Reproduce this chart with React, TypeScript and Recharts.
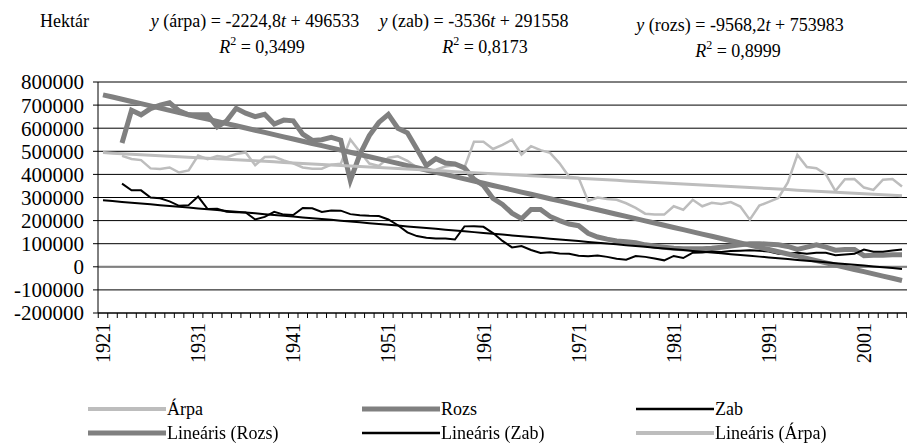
import { LineChart, Line, XAxis, YAxis, CartesianGrid, ReferenceLine, Text } from "recharts";

const SERIF = '"Liberation Serif", "Times New Roman", serif';

// categories: 1921..2005
const FIRST_YEAR = 1921;
const LAST_YEAR = 2005;
const years: number[] = [];
for (let y = FIRST_YEAR; y <= LAST_YEAR; y++) years.push(y);

// hectares (1921-1922 empty)
const arpa = [
  null, null,
  480000, 467000, 462000, 426000, 423000, 430000, 408000, 417000,
  482000, 466000, 480000, 474000, 488000, 495000, 440000, 475000, 476000, 460000,
  448000, 430000, 425000, 425000, 442000, 446000, 551000, 498000, 447000, 437000,
  472000, 478000, 459000, 430000, 415000, 420000, 434000, 440000, 430000, 541000,
  541000, 510000, 528000, 550000, 486000, 522000, 505000, 493000, 448000, 390000,
  385000, 285000, 300000, 294000, 290000, 275000, 255000, 230000, 226000, 226000,
  262000, 247000, 290000, 262000, 277000, 272000, 280000, 261000, 204000, 265000,
  281000, 298000, 365000, 485000, 432000, 427000, 400000, 328000, 379000, 380000,
  343000, 333000, 377000, 380000, 348000,
];

const rozs = [
  null, null,
  536000, 678000, 658000, 685000, 700000, 710000, 675000, 658000,
  658000, 658000, 606000, 632000, 686000, 665000, 650000, 660000, 618000, 635000,
  632000, 574000, 547000, 550000, 560000, 548000, 374000, 486000, 568000, 625000,
  660000, 600000, 580000, 510000, 438000, 468000, 449000, 445000, 428000, 380000,
  352000, 296000, 270000, 232000, 208000, 248000, 248000, 218000, 200000, 185000,
  178000, 145000, 129000, 120000, 112000, 108000, 104000, 95000, 90000, 85000,
  80000, 78000, 78000, 78000, 80000, 85000, 90000, 95000, 100000, 100000,
  98000, 95000, 88000, 75000, 85000, 95000, 85000, 72000, 75000, 75000,
  48000, 50000, 50000, 52000, 52000,
];

const zab = [
  null, null,
  360000, 331000, 331000, 300000, 297000, 283000, 264000, 267000,
  304000, 250000, 251000, 238000, 236000, 235000, 205000, 216000, 238000, 226000,
  224000, 255000, 253000, 237000, 244000, 243000, 228000, 223000, 221000, 220000,
  205000, 180000, 149000, 133000, 126000, 122000, 122000, 118000, 175000, 176000,
  173000, 146000, 112000, 84000, 90000, 73000, 60000, 63000, 58000, 56000,
  48000, 46000, 49000, 43000, 35000, 31000, 47000, 43000, 36000, 28000,
  47000, 38000, 61000, 62000, 66000, 64000, 68000, 70000, 72000, 70000,
  66000, 56000, 58000, 61000, 56000, 61000, 61000, 50000, 53000, 56000,
  75000, 65000, 65000, 71000, 75000,
];

// trend equations as printed above the chart (t = 1 for 1921)
const trendArpa = { slope: -2224.8, intercept: 496533 };
const trendZab = { slope: -3536, intercept: 291558 };
const trendRozs = { slope: -9568.2, intercept: 753983 };

const yTicks = [-200000, -100000, 0, 100000, 200000, 300000, 400000, 500000, 600000, 700000, 800000];

const data = years.map((year, i) => ({
  year,
  arpa: arpa[i],
  rozs: rozs[i],
  zab: zab[i],
  linRozs: trendRozs.intercept + trendRozs.slope * (i + 1),
  linZab: trendZab.intercept + trendZab.slope * (i + 1),
  linArpa: trendArpa.intercept + trendArpa.slope * (i + 1),
}));

const W = 907;
const H = 443;
const PLOT_LEFT = 98;
const X_PAD = 5;
const STEP = (W - PLOT_LEFT - 2 * X_PAD) / (years.length - 1);

const ARPA = "#bdbdbd";
const ROZS = "#808080";

function YearTick(props: any) {
  const { x, y, index, payload } = props;
  const half = STEP / 2;
  return (
    <g>
      <line x1={x - half} y1={y} x2={x - half} y2={y + 5} stroke="#000" />
      {index === years.length - 1 && (
        <line x1={x + half} y1={y} x2={x + half} y2={y + 5} stroke="#000" />
      )}
      {index % 10 === 0 && (
        <Text
          x={x}
          y={y + 10}
          angle={-90}
          textAnchor="end"
          verticalAnchor="middle"
          fontSize={20}
          fontFamily="Liberation Serif"
          fill="#000"
        >
          {String(payload.value)}
        </Text>
      )}
    </g>
  );
}

const legendItems = [
  { label: "Árpa", color: ARPA, width: 4, col: 0, row: 0 },
  { label: "Rozs", color: ROZS, width: 5, col: 1, row: 0 },
  { label: "Zab", color: "#000", width: 2.5, col: 2, row: 0 },
  { label: "Lineáris (Rozs)", color: ROZS, width: 5, col: 0, row: 1 },
  { label: "Lineáris (Zab)", color: "#000", width: 2.5, col: 1, row: 1 },
  { label: "Lineáris (Árpa)", color: ARPA, width: 4, col: 2, row: 1 },
];
const legendCols = [88, 362, 636];
const legendRows = [409, 433];

const textBase: any = {
  position: "absolute",
  fontSize: 18,
  lineHeight: "18px",
  color: "#000",
  whiteSpace: "nowrap",
};

// centred header line; baseline is about 15px below the top of an 18px line box
function Centered({ cx, baseline, children }: any) {
  return (
    <div style={{ ...textBase, left: cx - 160, width: 320, top: baseline - 15, textAlign: "center" }}>
      {children}
    </div>
  );
}

const sup: any = { fontSize: 12, verticalAlign: "top", lineHeight: "10px", position: "relative", top: -2 };

export default function App() {
  return (
    <div style={{ position: "fixed", left: 0, top: 0, width: W, height: H, background: "#fff", fontFamily: SERIF }}>
      <LineChart width={W} height={H} data={data} margin={{ top: 82, right: 0, left: 0, bottom: 0 }}>
        <CartesianGrid vertical={false} stroke="#000" />
        <XAxis
          dataKey="year"
          interval={0}
          height={130}
          padding={{ left: X_PAD, right: X_PAD }}
          axisLine={{ stroke: "#000" }}
          tickLine={false}
          tickSize={0}
          tickMargin={0}
          tick={<YearTick />}
        />
        <YAxis
          width={PLOT_LEFT}
          domain={[-200000, 800000]}
          ticks={yTicks}
          interval={0}
          axisLine={{ stroke: "#000" }}
          tickLine={{ stroke: "#000" }}
          tickSize={5}
          tickMargin={9}
          tick={{ fontSize: 21, fill: "#000", fontFamily: "Liberation Serif" }}
        />
        <ReferenceLine y={0} stroke="#808080" strokeWidth={2} />
        <Line dataKey="arpa" stroke={ARPA} strokeWidth={2.5} dot={false} isAnimationActive={false} />
        <Line dataKey="rozs" stroke={ROZS} strokeWidth={5} dot={false} isAnimationActive={false} />
        <Line dataKey="zab" stroke="#000" strokeWidth={2} dot={false} isAnimationActive={false} />
        <Line dataKey="linRozs" stroke={ROZS} strokeWidth={5} dot={false} isAnimationActive={false} />
        <Line dataKey="linZab" stroke="#000" strokeWidth={2} dot={false} isAnimationActive={false} />
        <Line dataKey="linArpa" stroke={ARPA} strokeWidth={3} dot={false} isAnimationActive={false} />
      </LineChart>

      <svg width={W} height={H} style={{ position: "absolute", left: 0, top: 0, pointerEvents: "none" }}>
        {legendItems.map((it) => (
          <line
            key={it.label}
            x1={legendCols[it.col]}
            y1={legendRows[it.row]}
            x2={legendCols[it.col] + 78}
            y2={legendRows[it.row]}
            stroke={it.color}
            strokeWidth={it.width}
          />
        ))}
      </svg>

      {legendItems.map((it) => (
        <div
          key={it.label}
          style={{ ...textBase, left: legendCols[it.col] + 79, top: legendRows[it.row] + 6 - 15 }}
        >
          {it.label}
        </div>
      ))}

      <div style={{ ...textBase, left: 40, top: 27 - 15 }}>Hektár</div>

      <Centered cx={255} baseline={27}>
        <i>y</i> (árpa) = -2224,8<i>t</i> + 496533
      </Centered>
      <Centered cx={262} baseline={53}>
        <i>R</i><span style={sup}>2</span> = 0,3499
      </Centered>

      <Centered cx={474} baseline={27}>
        <i>y</i> (zab) = -3536<i>t</i> + 291558
      </Centered>
      <Centered cx={485} baseline={53}>
        <i>R</i><span style={sup}>2</span> = 0,8173
      </Centered>

      <Centered cx={740} baseline={31}>
        <i>y</i> (rozs) = -9568,2<i>t</i> + 753983
      </Centered>
      <Centered cx={738} baseline={57}>
        <i>R</i><span style={sup}>2</span> = 0,8999
      </Centered>
    </div>
  );
}
